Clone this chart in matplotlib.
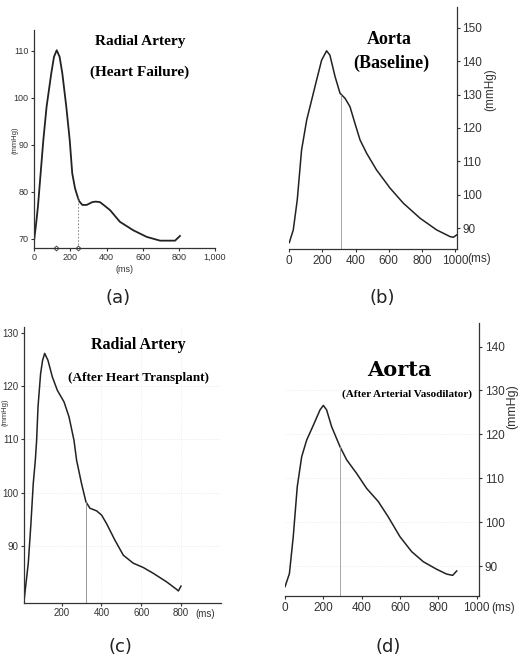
import matplotlib
matplotlib.use('Agg')
import matplotlib.pyplot as plt
import numpy as np

# ---------------- data ----------------
# (a) Radial artery, heart failure
a_t = [0, 10, 20, 35, 50, 68, 94, 109, 124, 140, 155, 177, 196, 210, 225, 235,
       248, 266, 290, 321, 340, 363, 390, 419, 474, 548, 622, 696, 779, 806]
a_p = [70, 73.2, 76.8, 83.9, 91, 98.1, 105.2, 108.7, 110.1, 108.7, 105.2, 98.1,
       91, 83.9, 80.8, 79.5, 78, 77.2, 77.2, 77.8, 77.9, 77.8, 77.0, 76.1, 73.6,
       71.8, 70.4, 69.6, 69.6, 70.6]
a_notch = (240, 79.2)
a_marks = [118, 240]

# (b) Aorta baseline
b_t = [0, 24, 48, 74, 105, 135, 165, 195, 225, 245, 276, 306, 336, 366, 396, 427,
       467, 527, 608, 688, 789, 889, 970, 990, 1010]
b_p = [85.7, 89.5, 98.5, 113.4, 122.4, 128.4, 134.4, 140.3, 143.1, 141.8, 135.4,
       130.4, 128.9, 126.4, 121.4, 116.4, 112.4, 107.4, 102.0, 97.5, 93.0, 89.5,
       87.5, 87.3, 88.0]
b_notch = (312, 130.0)

# (c) Radial artery, after heart transplant
c_t = [12, 32, 45, 57, 67.5, 74, 81, 94, 104, 114.5, 131, 153, 178, 212, 237, 262,
       275, 300, 322, 342, 376, 401, 426, 468, 510, 560, 610, 661, 728, 778, 787, 800]
c_p = [80.2, 86.8, 94, 101.7, 106.1, 109.8, 116.1, 122.3, 124.8, 126.1, 124.8,
       121.7, 119.2, 117.0, 114.2, 109.8, 106.1, 101.7, 98.3, 97.1, 96.6, 95.8,
       94.2, 91.1, 88.3, 86.8, 86.0, 84.9, 83.3, 81.9, 81.6, 82.5]
c_notch = (322, 98.3)

# (d) Aorta, after arterial vasodilator
d_t = [0, 23, 43, 64, 87, 113, 148, 183, 200, 217, 243, 287, 322, 374, 426, 487,
       539, 600, 661, 722, 791, 843, 875, 896]
d_p = [85.3, 88.3, 96.7, 108.1, 114.9, 118.7, 122.1, 125.6, 126.6, 125.6, 121.8,
       117.2, 114.2, 111.1, 107.7, 104.7, 101.2, 96.7, 93.3, 91.0, 89.3, 88.2, 87.9,
       88.9]
d_notch = (287, 117.2)

a_yticks = [70, 80, 90, 100, 110]
a_xticks = [0, 200, 400, 600, 800, 1000]
a_xlabels = ['0', '200', '400', '600', '800', '1,000']
b_yticks = [90, 100, 110, 120, 130, 140, 150]
b_xticks = [0, 200, 400, 600, 800, 1000]
b_xlabels = ['0', '200', '400', '600', '800', '1000']
c_yticks = [90, 100, 110, 120, 130]
c_xticks = [200, 400, 600, 800]
d_yticks = [90, 100, 110, 120, 130, 140]
d_xticks = [0, 200, 400, 600, 800, 1000]
d_xlabels = ['0', '200', '400', '600', '800', '1000']

# ---------------- layout ----------------
W, H = 520, 659
fig = plt.figure(figsize=(W / 100, H / 100), dpi=100)
fig.patch.set_facecolor('white')

NARROW = ['Liberation Sans', 'DejaVu Sans']
SERIF = ['Liberation Serif', 'DejaVu Serif']


def ax_px(l, t, r, b):
    return fig.add_axes([l / W, 1 - b / H, (r - l) / W, (b - t) / H])


def ftext(x, y, s, **kw):
    fig.text(x / W, 1 - y / H, s, **kw)


def style(ax, side, fs):
    for sp in ax.spines.values():
        sp.set_visible(False)
    ax.spines['bottom'].set_visible(True)
    ax.spines[side].set_visible(True)
    for k in ('bottom', side):
        ax.spines[k].set_color('#333333')
        ax.spines[k].set_linewidth(0.9)
    ax.set_facecolor('none')
    if side == 'right':
        ax.yaxis.tick_right()
    ax.tick_params(axis='both', length=2, width=0.8, colors='#333333',
                   labelsize=fs, pad=2)
    for lab in ax.get_xticklabels() + ax.get_yticklabels():
        lab.set_family(NARROW)


# (a)
ax = ax_px(34.3, 30, 215, 247.7)
ax.plot(a_t, a_p, color='#222222', lw=1.3)
ax.plot([a_notch[0], a_notch[0]], [68.1, a_notch[1]], color='#777777', lw=0.6, ls=(0, (2, 2)))
ax.plot(a_marks, [68.1] * len(a_marks), ls='none', marker='D', ms=2.5, mfc='white',
        mec='#333333', mew=0.6, clip_on=False)
ax.set_xlim(0, 1000)
ax.set_ylim(68.1, 114.4)
ax.set_xticks(a_xticks)
ax.set_xticklabels(a_xlabels)
ax.set_yticks(a_yticks)
style(ax, 'left', 6.5)
ftext(140, 42, 'Radial Artery', family=SERIF, weight='bold', fontsize=11, ha='center', va='center')
ftext(140, 72, '(Heart Failure)', family=SERIF, weight='bold', fontsize=11, ha='center', va='center')
ftext(15, 140, '(mmHg)', family=NARROW, fontsize=5.5, rotation=90, ha='center', va='center', color='#333333')
ftext(125, 269, '(ms)', family=NARROW, fontsize=6.5, ha='center', va='center', color='#333333')
ftext(118, 298, '(a)', family=['DejaVu Sans'], fontsize=13, ha='center', va='center', color='#222222')

# (b)
ax = ax_px(289.3, 6.7, 456.7, 249.3)
ax.plot(b_t, b_p, color='#222222', lw=1.1)
ax.plot([b_notch[0], b_notch[0]], [83.7, b_notch[1]], color='#999999', lw=0.6)
ax.set_xlim(0, 1010)
ax.set_ylim(83.7, 156.3)
ax.set_xticks(b_xticks)
ax.set_xticklabels(b_xlabels)
ax.set_yticks(b_yticks)
style(ax, 'right', 8.5)
ftext(389, 39, 'Aorta', family=SERIF, weight='bold', fontsize=13, ha='center', va='center')
ftext(391, 63, '(Baseline)', family=SERIF, weight='bold', fontsize=13, ha='center', va='center')
ftext(490, 90, '(mmHg)', family=NARROW, fontsize=8.5, rotation=90, ha='center', va='center', color='#333333')
ftext(479, 259, '(ms)', family=NARROW, fontsize=8.5, ha='center', va='center', color='#333333')
ftext(382, 298, '(b)', family=['DejaVu Sans'], fontsize=13, ha='center', va='center', color='#222222')

# (c)
ax = ax_px(24.3, 326.7, 220.7, 602.7)
for v in c_yticks[:-1]:
    ax.axhline(v, color='#e4e4e4', lw=0.6, ls=':')
for v in c_xticks[1:]:
    ax.axvline(v, color='#e8e8e8', lw=0.6, ls=':')
ax.plot(c_t, c_p, color='#222222', lw=1.1)
ax.plot([c_notch[0], c_notch[0]], [79.4, c_notch[1]], color='#888888', lw=0.6)
ax.set_xlim(12, 1000)
ax.set_ylim(79.4, 131.1)
ax.set_xticks(c_xticks)
ax.set_yticks(c_yticks)
style(ax, 'left', 7)
ftext(138, 345, 'Radial Artery', family=SERIF, weight='bold', fontsize=11.5, ha='center', va='center')
ftext(138, 378, '(After Heart Transplant)', family=SERIF, weight='bold', fontsize=9.5, ha='center', va='center')
ftext(5, 412, '(mmHg)', family=NARROW, fontsize=5.5, rotation=90, ha='center', va='center', color='#333333')
ftext(205, 614, '(ms)', family=NARROW, fontsize=7, ha='center', va='center', color='#333333')
ftext(120, 647, '(c)', family=['DejaVu Sans'], fontsize=13, ha='center', va='center', color='#222222')

# (d)
ax = ax_px(285, 323.3, 479.3, 596)
for v in d_yticks[:-1]:
    ax.axhline(v, color='#e8e8e8', lw=0.6, ls=':')
ax.plot(d_t, d_p, color='#222222', lw=1.1)
ax.plot([d_notch[0], d_notch[0]], [83.2, d_notch[1]], color='#999999', lw=0.6)
ax.set_xlim(0, 1014)
ax.set_ylim(83.2, 145.3)
ax.set_xticks(d_xticks)
ax.set_xticklabels(d_xlabels)
ax.set_yticks(d_yticks)
style(ax, 'right', 8.5)
ftext(399, 370, 'Aorta', family=['DejaVu Serif'], weight='bold', fontsize=15, ha='center', va='center')
ftext(407, 394, '(After Arterial Vasodilator)', family=SERIF, weight='bold', fontsize=8, ha='center', va='center')
ftext(512, 407, '(mmHg)', family=NARROW, fontsize=9, rotation=90, ha='center', va='center', color='#333333')
ftext(503, 608, '(ms)', family=NARROW, fontsize=8.5, ha='center', va='center', color='#333333')
ftext(388, 647, '(d)', family=['DejaVu Sans'], fontsize=13, ha='center', va='center', color='#222222')

fig.savefig('out.png', dpi=100, facecolor='white')
